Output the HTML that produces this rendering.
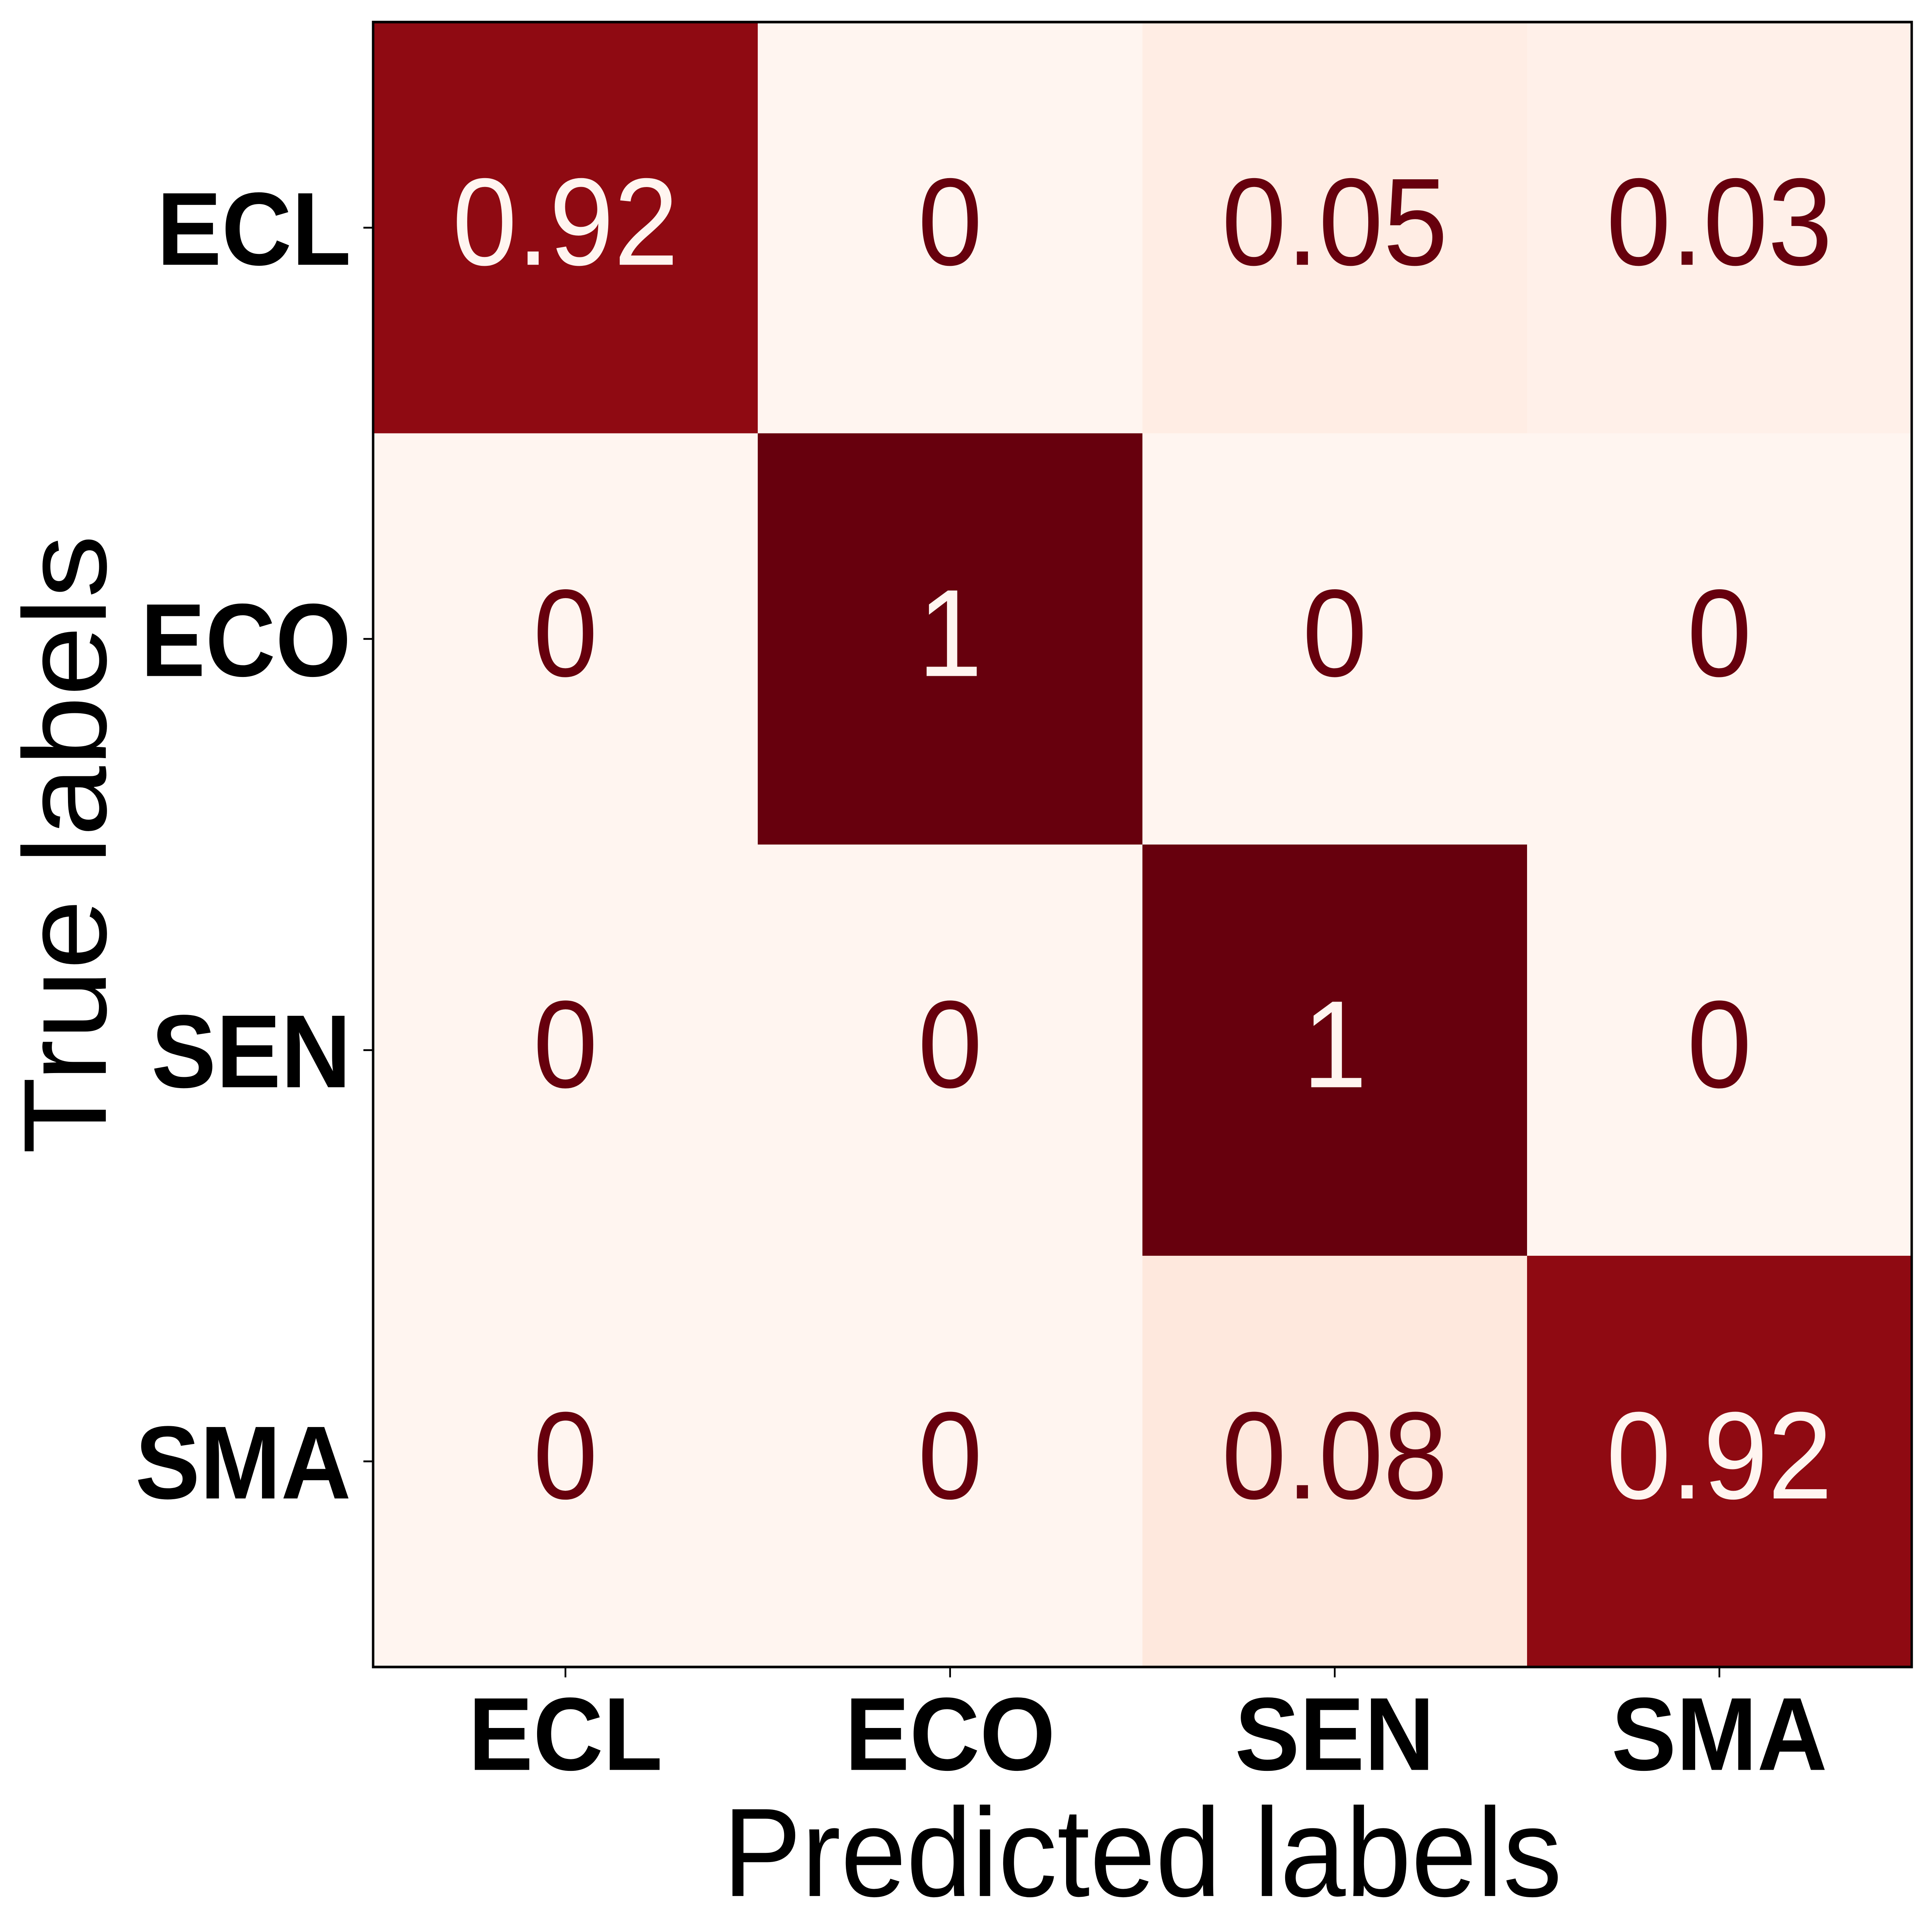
<!DOCTYPE html>
<html><head><meta charset="utf-8"><style>
html,body{margin:0;padding:0;background:#fff;width:100%;height:100%;overflow:hidden;}
svg{display:block;position:absolute;left:0;top:0;width:100vw;height:100vh;}
</style></head><body>
<svg id="chart" viewBox="0 0 5569 5209" preserveAspectRatio="none" xmlns="http://www.w3.org/2000/svg" font-family="'Liberation Sans', Arial, sans-serif" overflow="hidden">
<rect width="5569" height="5209" fill="#ffffff"/>
<g id="cells"></g>
<g id="values"></g>
<rect x="1075.5" y="59.5" width="4435" height="4435" fill="none" stroke="#000" stroke-width="7"/>
<g id="xticks"></g>
<g id="yticks"></g>
<text x="3293" y="5112" text-anchor="middle" font-size="340" fill="#000">Predicted labels</text>
<text x="305" y="2277" text-anchor="middle" font-size="340" fill="#000" transform="rotate(-90 305 2277)">True labels</text>
</svg>
<script>
const categories = ["ECL", "ECO", "SEN", "SMA"];
const rowECL = [0.92, 0, 0.05, 0.03];
const rowECO = [0, 1, 0, 0];
const rowSEN = [0, 0, 1, 0];
const rowSMA = [0, 0, 0.08, 0.92];
const matrix = [rowECL, rowECO, rowSEN, rowSMA];

const NS = "http://www.w3.org/2000/svg";
const X0 = 1075.5, Y0 = 59.5, SIZE = 4435;
const n = categories.length;
const cell = SIZE / n;
function xPos(j){ return X0 + j * cell; }
function yPos(i){ return Y0 + i * cell; }

const stops = [[255,245,240],[254,224,210],[252,187,161],[252,146,114],[251,106,74],[239,59,44],[203,24,29],[165,15,21],[103,0,13]];
function reds(t){
  t = Math.max(0, Math.min(1, t));
  const p = t * (stops.length - 1);
  const k = Math.min(stops.length - 2, Math.floor(p));
  const f = p - k;
  const a = stops[k], b = stops[k+1];
  return "rgb(" + a.map((v, idx) => Math.round(v + (b[idx] - v) * f)).join(",") + ")";
}
let vmin = Infinity, vmax = -Infinity;
matrix.forEach(r => r.forEach(v => { vmin = Math.min(vmin, v); vmax = Math.max(vmax, v); }));
const thresh = (vmin + vmax) / 2;

const gc = document.getElementById("cells");
const gv = document.getElementById("values");
matrix.forEach((row, i) => {
  row.forEach((v, j) => {
    const r = document.createElementNS(NS, "rect");
    r.setAttribute("x", xPos(j)); r.setAttribute("y", yPos(i));
    r.setAttribute("width", cell + 0.5); r.setAttribute("height", cell + 0.5);
    r.setAttribute("fill", reds((v - vmin) / (vmax - vmin)));
    
    
    gc.appendChild(r);
    const t = document.createElementNS(NS, "text");
    t.setAttribute("x", xPos(j) + cell / 2);
    t.setAttribute("y", yPos(i) + cell / 2 + 100);
    t.setAttribute("text-anchor", "middle");
    t.setAttribute("font-size", "335");
    t.setAttribute("fill", v > thresh ? "#fff5f0" : "#67000d");
    t.textContent = String(v);
    
    
    gv.appendChild(t);
  });
});

const gx = document.getElementById("xticks");
const gy = document.getElementById("yticks");
categories.forEach((c, k) => {
  const cx = xPos(k) + cell / 2;
  const tl = document.createElementNS(NS, "line");
  tl.setAttribute("x1", cx); tl.setAttribute("x2", cx);
  tl.setAttribute("y1", Y0 + SIZE); tl.setAttribute("y2", Y0 + SIZE + 28);
  tl.setAttribute("stroke", "#000"); tl.setAttribute("stroke-width", "5");
  
  
  gx.appendChild(tl);
  const tx = document.createElementNS(NS, "text");
  tx.setAttribute("x", cx); tx.setAttribute("y", 4772);
  tx.setAttribute("text-anchor", "middle"); tx.setAttribute("font-size", "280");
  tx.setAttribute("font-weight", "bold");
  tx.textContent = c;
  
  
  gx.appendChild(tx);

  const cy = yPos(k) + cell / 2;
  const yl = document.createElementNS(NS, "line");
  yl.setAttribute("x1", X0 - 28); yl.setAttribute("x2", X0);
  yl.setAttribute("y1", cy); yl.setAttribute("y2", cy);
  yl.setAttribute("stroke", "#000"); yl.setAttribute("stroke-width", "5");
  
  
  gy.appendChild(yl);
  const ty = document.createElementNS(NS, "text");
  ty.setAttribute("x", 1012); ty.setAttribute("y", cy + 100);
  ty.setAttribute("text-anchor", "end"); ty.setAttribute("font-size", "280");
  ty.setAttribute("font-weight", "bold");
  ty.textContent = c;
  
  
  gy.appendChild(ty);
});
</script>
</body></html>
